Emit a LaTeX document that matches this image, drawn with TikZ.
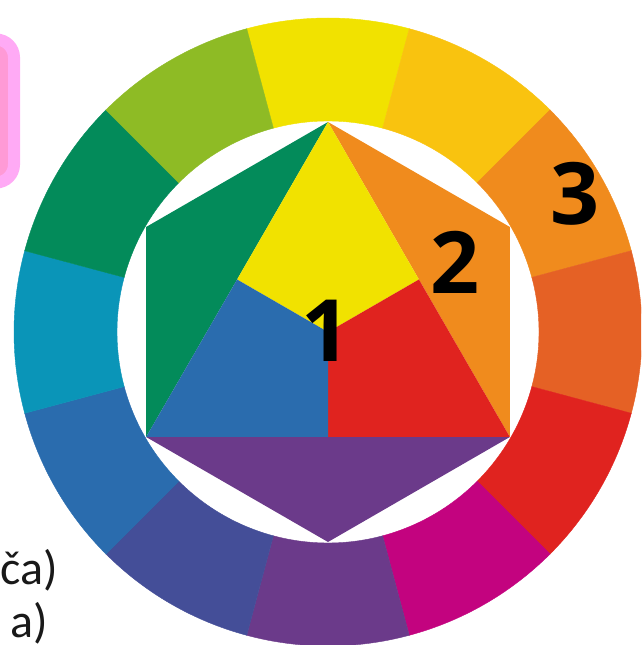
\documentclass[tikz,border=0pt]{standalone}
\usepackage{fontspec}
\setmainfont{Open Sans}
\newfontfamily\capfont{Carlito}
\usepackage{tikz}
\usetikzlibrary{positioning, calc}
\usepackage{xcolor}
\definecolor{wyellow}{HTML}{F1E200}
\definecolor{wyelloworange}{HTML}{F9C30F}
\definecolor{worange}{HTML}{F08B1D}
\definecolor{wredorange}{HTML}{E56125}
\definecolor{wred}{HTML}{E0231F}
\definecolor{wmagenta}{HTML}{C3037F}
\definecolor{wviolet}{HTML}{6B3A8A}
\definecolor{wblueviolet}{HTML}{444E98}
\definecolor{wblue}{HTML}{2A6CAE}
\definecolor{wcyan}{HTML}{0A95B8}
\definecolor{wgreen}{HTML}{038B5A}
\definecolor{wyellowgreen}{HTML}{8EBB25}
\definecolor{tagpink}{HTML}{FF9AD6}
\definecolor{tagrim}{HTML}{FFAAF5}
\tikzset{
  seg/.style={line width=0.4pt},
  numlabel/.style={font=\fontsize{86}{86}\selectfont\bfseries, text=black, inner sep=0pt},
  caplabel/.style={font=\capfont\fontsize{48}{54}\selectfont, text=black!90, inner sep=0pt, anchor=base east},
  tagbox/.style={draw=tagrim, fill=tagpink, line width=12pt, rounded corners=18pt},
}

\begin{document}
\begin{tikzpicture}[x=1pt, y=1pt]

  \useasboundingbox (0,0) rectangle (641,645);
  \clip (0,0) rectangle (641,645);

  %% Tag box, cut by the left edge
  \node[tagbox, minimum width=120pt, minimum height=143pt] (tag) at (-46,534) {};

  %% Outer ring, 12 hues, clockwise from yellow
  \begin{scope}[shift={(328,313)}]
    \foreach \a/\c in {90/wyellow, 60/wyelloworange, 30/worange, 0/wredorange,
                       -30/wred, -60/wmagenta, -90/wviolet, -120/wblueviolet,
                       -150/wblue, 180/wcyan, 150/wgreen, 120/wyellowgreen}{
      \filldraw[seg, fill=\c, draw=\c] (\a-15:314) arc[start angle=\a-15, end angle=\a+15, radius=314]
        -- (\a+15:211) arc[start angle=\a+15, end angle=\a-15, radius=211] -- cycle;
    }

    %% Secondary triangles of the hexagon
    \fill[wgreen]  (90:210) -- (150:210) -- (-150:210) -- cycle;
    \fill[worange] (90:210) -- (30:210) -- (-30:210) -- cycle;
    \fill[wviolet] (-150:210) -- (-90:210) -- (-30:210) -- cycle;

    %% Primary triangle, split in three
    \fill[wyellow] (90:210) -- (30:105) -- (0,0) -- (150:105) -- cycle;
    \fill[wred]    (-30:210) -- (-90:105) -- (0,0) -- (30:105) -- cycle;
    \fill[wblue]   (-150:210) -- (150:105) -- (0,0) -- (-90:105) -- cycle;
  \end{scope}

  %% Numbers
  \node[numlabel] (one)   at (326,314) {1};
  \node[numlabel] (two)   at (455,383) {2};
  \node[numlabel] (three) at (575,451.5) {3};

  %% Caption text, cut by the left edge
  \node[caplabel] (capa) at (58,60) {ča)};
  \node[caplabel] (capb) at (48,8) {a)};

\end{tikzpicture}
\end{document}
